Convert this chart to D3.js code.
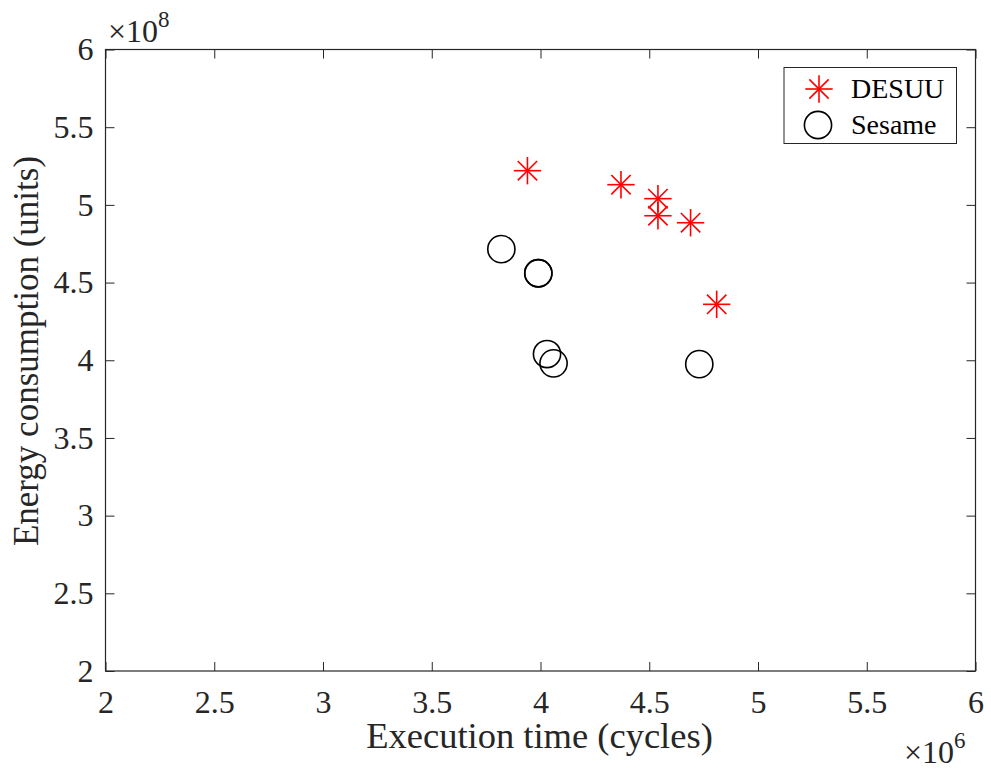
<!DOCTYPE html>
<html>
<head>
<meta charset="utf-8">
<script src="https://cdn.jsdelivr.net/npm/d3@7"></script>
<style>
  html, body { margin: 0; padding: 0; background: #fff; }
  svg { display: block; }
</style>
</head>
<body>
<svg id="chart" width="991" height="772"></svg>
<script>
// Execution time in units of 1e6 cycles, energy in units of 1e8
const desuuX = [3.94, 4.37, 4.54, 4.54, 4.69, 4.81];
const desuuY = [5.22, 5.13, 5.04, 4.93, 4.885, 4.36];
const sesameX = [3.82, 3.99, 3.99, 4.03, 4.06, 4.73];
const sesameY = [4.715, 4.56, 4.56, 4.04, 3.98, 3.975];
const xTicks = [2, 2.5, 3, 3.5, 4, 4.5, 5, 5.5, 6];
const yTicks = [2, 2.5, 3, 3.5, 4, 4.5, 5, 5.5, 6];
const seriesNames = ["DESUU", "Sesame"];

const FONT = "Liberation Serif";
const svg = d3.select("#chart").attr("font-family", FONT);
const m = { left: 105.5, top: 49.5, right: 975.5, bottom: 671 };
const axisColor = "#262626";

const x = d3.scaleLinear().domain([2, 6]).range([m.left, m.right]);
const y = d3.scaleLinear().domain([2, 6]).range([m.bottom, m.top]);

const fmt = d => String(d);
const tickLen = 9;

function styleAxis(g) {
  g.attr("font-family", FONT).attr("font-size", 32);
  g.select(".domain").remove();
  g.selectAll(".tick line").attr("stroke", axisColor).attr("stroke-width", 1);
  g.selectAll(".tick text").attr("fill", axisColor);
}

// bottom axis (ticks point inward)
svg.append("g")
  .attr("transform", `translate(0,${m.bottom})`)
  .call(d3.axisBottom(x).tickValues(xTicks).tickFormat(fmt).tickSize(-tickLen).tickPadding(19))
  .call(styleAxis);
// left axis
svg.append("g")
  .attr("transform", `translate(${m.left},0)`)
  .call(d3.axisLeft(y).tickValues(yTicks).tickFormat(fmt).tickSize(-tickLen).tickPadding(12))
  .call(styleAxis);
// top and right ticks without labels
svg.append("g")
  .attr("transform", `translate(0,${m.top})`)
  .call(d3.axisTop(x).tickValues(xTicks).tickFormat("").tickSize(-tickLen))
  .call(styleAxis);
svg.append("g")
  .attr("transform", `translate(${m.right},0)`)
  .call(d3.axisRight(y).tickValues(yTicks).tickFormat("").tickSize(-tickLen))
  .call(styleAxis);

// axes box
svg.append("rect")
  .attr("x", m.left).attr("y", m.top)
  .attr("width", m.right - m.left).attr("height", m.bottom - m.top)
  .attr("fill", "none").attr("stroke", axisColor).attr("stroke-width", 1.2);

// exponent labels
const yExp = svg.append("text").attr("x", 108).attr("y", 41.7)
  .attr("fill", axisColor).attr("font-size", 32);
yExp.append("tspan").text("\u00d710");
yExp.append("tspan").attr("dy", -15).attr("font-size", 23).text("8");

const xExp = svg.append("text").attr("x", 904).attr("y", 763)
  .attr("fill", axisColor).attr("font-size", 32);
xExp.append("tspan").text("\u00d710");
xExp.append("tspan").attr("dy", -15).attr("font-size", 23).text("6");

// axis titles
svg.append("text")
  .attr("x", (m.left + m.right) / 2 - 1).attr("y", 748)
  .attr("text-anchor", "middle").attr("fill", axisColor)
  .attr("font-size", 36.5)
  .text("Execution time (cycles)");

svg.append("text")
  .attr("transform", `translate(37.5,351) rotate(-90)`)
  .attr("text-anchor", "middle").attr("fill", axisColor)
  .attr("font-size", 35)
  .text("Energy consumption (units)");

// asterisk marker: eight spokes
const armLen = 13.7;
function asterisk(sel) {
  [0, 45, 90, 135].forEach(a => {
    const r = a * Math.PI / 180;
    sel.append("line")
      .attr("x1", -armLen * Math.cos(r)).attr("y1", -armLen * Math.sin(r))
      .attr("x2", armLen * Math.cos(r)).attr("y2", armLen * Math.sin(r))
      .attr("stroke", "#ff0000").attr("stroke-width", 1.6);
  });
}

const desuu = desuuX.map((v, i) => ({ x: v, y: desuuY[i] }));
const sesame = sesameX.map((v, i) => ({ x: v, y: sesameY[i] }));

svg.append("g").selectAll("g").data(desuu).join("g")
  .attr("transform", d => `translate(${x(d.x)},${y(d.y)})`)
  .each(function () { asterisk(d3.select(this)); });

svg.append("g").selectAll("circle").data(sesame).join("circle")
  .attr("cx", d => x(d.x)).attr("cy", d => y(d.y)).attr("r", 13.6)
  .attr("fill", "none").attr("stroke", "#000").attr("stroke-width", 1.6);

// legend
const lg = svg.append("g");
lg.append("rect").attr("x", 784).attr("y", 67.5).attr("width", 172.5).attr("height", 76)
  .attr("fill", "#fff").attr("stroke", axisColor).attr("stroke-width", 1);
asterisk(lg.append("g").attr("transform", "translate(819,89)"));
lg.append("circle").attr("cx", 818).attr("cy", 125).attr("r", 13.6)
  .attr("fill", "none").attr("stroke", "#000").attr("stroke-width", 1.6);
lg.append("text").attr("x", 851).attr("y", 97.7).attr("font-size", 28).attr("fill", "#000").text(seriesNames[0]);
lg.append("text").attr("x", 851).attr("y", 134).attr("font-size", 28).attr("fill", "#000").text(seriesNames[1]);
</script>
</body>
</html>
